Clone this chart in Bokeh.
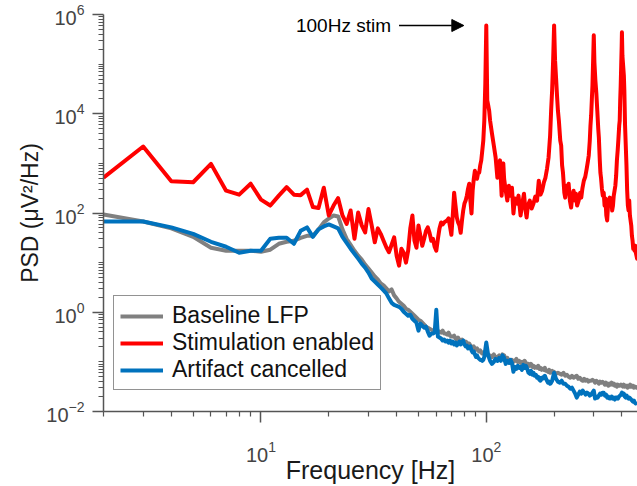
from bokeh.plotting import figure
from bokeh.models import FixedTicker, LogTickFormatter, Arrow, NormalHead, Range1d
from bokeh.core.properties import value
from bokeh.embed import file_html
from bokeh.resources import INLINE

# ---------------- data (PSD stored as log10 of uV^2/Hz) ----------------
low_freq = list(range(2, 100))

red_low_log = [
    2.71, 3.34, 2.64, 2.62, 2.99, 2.45, 2.37, 2.59, 2.27, 2.15,   # 2-11
    2.35, 2.52, 2.37, 2.36, 2.47, 2.12, 2.10, 2.51, 1.95, 2.15,   # 12-21
    2.30, 1.95, 1.78, 2.05, 1.48, 2.01, 1.75, 1.61, 2.08, 1.75,   # 22-31
    1.41, 1.69, 1.58, 1.44, 1.31, 1.21, 1.36, 1.51, 1.14, 0.94,   # 32-41
    1.28, 1.20, 1.00, 1.24, 1.69, 1.95, 1.44, 1.30, 1.75, 1.54,   # 42-51
    1.34, 1.48, 1.64, 1.71, 1.60, 1.44, 1.48, 1.32, 1.24, 1.48,   # 52-61
    1.69, 1.81, 1.77, 1.81, 1.83, 1.85, 1.89, 1.73, 1.56, 1.95,   # 62-71
    2.41, 2.15, 1.91, 1.81, 1.75, 1.60, 1.85, 2.05, 2.19, 2.25,   # 72-81
    2.35, 2.49, 2.59, 2.25, 1.99, 2.45, 2.69, 2.85, 2.75, 2.69,   # 82-91
    2.81, 2.81, 2.96, 3.06, 3.26, 3.46, 3.86, 4.60,               # 92-99
]

grey_low_log = [
    1.97, 1.83, 1.69, 1.52, 1.30, 1.24, 1.24, 1.24, 1.22, 1.26,   # 2-11
    1.38, 1.42, 1.44, 1.50, 1.54, 1.54, 1.67, 1.81, 1.89, 1.95,   # 12-21
    1.93, 1.67, 1.48, 1.36, 1.24, 1.14, 1.06, 0.96, 0.88, 0.80,   # 22-31
    0.72, 0.66, 0.58, 0.54, 0.48, 0.42, 0.46, 0.34, 0.28, 0.21,   # 32-41
    0.17, 0.13, 0.07, 0.05, 0.01, -0.03, -0.07, -0.11, -0.15, -0.17,   # 42-51
    -0.21, -0.25, -0.29, -0.31, -0.33, -0.35, -0.37, -0.39, -0.33, -0.39,  # 52-61
    -0.39, -0.41, -0.37, -0.43, -0.43, -0.45, -0.41, -0.47, -0.49, -0.49,  # 62-71
    -0.47, -0.53, -0.55, -0.51, -0.57, -0.57, -0.55, -0.59, -0.61, -0.59,  # 72-81
    -0.61, -0.65, -0.63, -0.67, -0.69, -0.71, -0.69, -0.73, -0.75, -0.73,  # 82-91
    -0.77, -0.79, -0.77, -0.81, -0.83, -0.81, -0.85, -0.85,               # 92-99
]

blue_low_log = [
    1.83, 1.83, 1.71, 1.58, 1.42, 1.32, 1.20, 1.24, 1.24, 1.48,   # 2-11
    1.50, 1.50, 1.38, 1.64, 1.71, 1.52, 1.67, 1.73, 1.77, 1.73,   # 12-21
    1.69, 1.52, 1.40, 1.28, 1.18, 1.08, 0.98, 0.90, 0.80, 0.68,   # 22-31
    0.62, 0.56, 0.50, 0.44, 0.38, 0.28, 0.19, 0.15, 0.13, 0.11,   # 32-41
    0.07, 0.01, -0.03, -0.07, -0.05, -0.13, -0.17, -0.21, -0.37, -0.23,  # 42-51
    -0.27, -0.31, -0.29, -0.39, -0.47, -0.43, -0.43, -0.41, 0.05, -0.49,  # 52-61
    -0.51, -0.53, -0.57, -0.55, -0.59, -0.57, -0.61, -0.57, -0.63, -0.59,  # 62-71
    -0.65, -0.61, -0.67, -0.63, -0.59, -0.65, -0.61, -0.57, -0.65, -0.69,  # 72-81
    -0.67, -0.73, -0.71, -0.69, -0.77, -0.81, -0.79, -0.85, -0.90, -0.87,  # 82-91
    -0.92, -0.94, -0.96, -0.96, -0.98, -0.96, -0.90, -0.75,               # 92-99
]

high_freq = list(range(100, 201, 2)) + list(range(204, 469, 4))

grey_high_log = [
    -0.81, -0.87, -0.87, -0.90, -0.85, -0.92, -0.90, -0.87, -0.92, -0.85,
    -0.87, -0.94, -0.92, -0.98, -1.02, -0.96, -1.00, -0.98, -0.94, -1.00,
    -0.98, -1.02, -1.00, -1.04, -0.98, -1.02, -1.06, -1.04, -1.08, -1.04,
    -1.10, -1.08, -1.12, -1.10, -1.12, -1.08, -1.14, -1.12, -1.16, -1.14,
    -1.16, -1.12, -1.18, -1.18, -1.20, -1.16, -1.22, -1.20, -1.18, -1.22,
    -1.20,
    -1.24, -1.22, -1.24, -1.26, -1.22, -1.28, -1.26, -1.30, -1.32, -1.28,
    -1.32, -1.30, -1.28, -1.34, -1.32, -1.36, -1.38, -1.34, -1.38, -1.36,
    -1.40, -1.38, -1.38, -1.36, -1.38, -1.42, -1.38, -1.40, -1.44, -1.40,
    -1.42, -1.40, -1.42, -1.46, -1.42, -1.44, -1.48, -1.44, -1.46, -1.42,
    -1.46, -1.44, -1.48, -1.46, -1.50, -1.46, -1.48, -1.48, -1.46, -1.48,
    -1.50, -1.46, -1.50, -1.48, -1.48, -1.52, -1.48, -1.50, -1.46, -1.50,
    -1.48, -1.48, -1.52, -1.50, -1.50, -1.52, -1.52,
]

blue_high_log = [
    -0.61, -0.87, -0.98, -1.04, -1.00, -0.94, -0.98, -0.92, -0.98, -0.87,
    -0.92, -1.04, -0.98, -1.02, -0.96, -1.02, -1.20, -1.10, -1.14, -1.08,
    -1.12, -1.10, -1.16, -1.06, -1.12, -1.08, -1.14, -1.22, -1.24, -1.18,
    -1.26, -1.22, -1.28, -1.26, -1.32, -1.30, -1.36, -1.38, -1.32, -1.34,
    -1.30, -1.28, -1.34, -1.38, -1.42, -1.40, -1.44, -1.42, -1.38, -1.30,
    -1.22,
    -1.34, -1.40, -1.42, -1.38, -1.44, -1.44, -1.48, -1.50, -1.54, -1.52,
    -1.58, -1.64, -1.72, -1.66, -1.60, -1.64, -1.58, -1.62, -1.66, -1.62,
    -1.64, -1.68, -1.66, -1.62, -1.58, -1.74, -1.70, -1.72, -1.68, -1.64,
    -1.66, -1.62, -1.62, -1.68, -1.66, -1.72, -1.70, -1.74, -1.74, -1.70,
    -1.74, -1.72, -1.76, -1.72, -1.72, -1.74, -1.70, -1.68, -1.66, -1.62,
    -1.66, -1.64, -1.70, -1.72, -1.68, -1.72, -1.74, -1.72, -1.74, -1.76,
    -1.78, -1.80, -1.78, -1.82, -1.84, -1.84, -1.86,
]

red_high_freq = [
    100, 101, 102, 103, 104, 106, 108, 110, 112, 113, 115, 117, 119, 120,
    122, 124, 126, 128, 130, 132, 134, 137, 139, 142, 144, 147, 149, 151,
    153, 156, 159, 162, 165, 168, 171, 174, 177, 180, 183, 186, 189, 192,
    194, 196, 198, 200, 202, 204, 206, 208, 210, 213, 215, 217, 219, 222,
    224, 227, 230, 232, 235, 238, 241, 244, 247, 250, 253, 257, 261, 264,
    267, 271, 275, 279, 282, 285, 288, 290, 292, 294, 296, 298, 300, 302,
    305, 308, 311, 314, 316, 319, 321, 323, 326, 329, 332, 335, 338, 341,
    344, 347, 350, 353, 356, 359, 362, 365, 368, 371, 374, 377, 380, 383,
    386, 389, 391, 393, 395, 397, 399, 400, 402, 405, 408, 410, 413, 416,
    419, 422, 425, 428, 431, 434, 437, 440, 443, 446, 449, 452, 455, 458,
    461, 464, 467, 470,
]
red_high_log = [
    5.78, 4.27, 4.17, 4.06, 3.86, 3.60, 3.36, 3.12, 2.71, 2.89, 3.06, 2.35, 3.00, 2.69,
    2.45, 2.25, 2.55, 2.35, 2.51, 1.99, 2.29, 2.19, 2.35, 1.95, 2.15, 2.39, 2.09, 1.91,
    2.15, 2.25, 2.09, 2.19, 2.33, 2.25, 2.65, 2.37, 2.45, 2.61, 2.71, 2.89, 3.12, 3.56,
    4.06, 4.47, 5.07, 5.78, 5.07, 4.73, 4.37, 4.06, 3.86, 3.46, 3.36, 2.96, 2.81, 2.41,
    2.31, 2.55, 2.49, 2.59, 2.25, 2.11, 2.35, 2.45, 2.25, 2.39, 2.15, 2.25, 2.41, 2.31,
    2.49, 2.65, 2.73, 2.89, 3.02, 3.16, 3.46, 3.76, 3.96, 4.27, 4.57, 5.07, 5.58, 5.03,
    4.67, 4.41, 4.06, 3.70, 3.52, 3.06, 2.81, 2.71, 2.49, 2.35, 2.41, 2.15, 2.29, 1.95,
    1.85, 2.15, 2.25, 2.31, 2.15, 2.29, 2.05, 2.15, 2.35, 2.45, 2.55, 2.75, 3.06, 3.26,
    3.50, 3.76, 3.86, 4.27, 4.57, 4.97, 5.37, 5.64, 5.17, 4.97, 4.77, 4.47, 3.76, 3.36,
    2.96, 2.45, 2.15, 2.05, 2.25, 1.95, 1.85, 1.75, 1.54, 1.44, 1.28, 1.34, 1.24, 1.34,
    1.20, 1.14, 1.08, 1.14,
]

series_names = ["Baseline LFP", "Stimulation enabled", "Artifact cancelled"]
series_colors = ["#808080", "#ff0000", "#0072bd"]

x_major = [10, 100]
y_major = [1e-2, 1e0, 1e2, 1e4, 1e6]

annot_text = "100Hz stim"
annot_text_freq = 14.3
annot_level = 6.0e5
arrow_freq_start = 41.0
arrow_freq_end = 79.5

# ---------------- figure ----------------
FONT = "Liberation Sans"

p = figure(width=637, height=486, x_axis_type="log", y_axis_type="log",
           x_range=Range1d(2, 469), y_range=Range1d(1e-2, 1e6),
           output_backend="svg", toolbar_location=None,
           min_border_left=103, min_border_right=0,
           min_border_top=14, min_border_bottom=75)
p.outline_line_color = None
p.background_fill_color = "white"
p.border_fill_color = "white"
p.grid.visible = False

grey_f = low_freq + high_freq
grey_v = [10 ** v for v in grey_low_log + grey_high_log]
blue_f = low_freq + high_freq
blue_v = [10 ** v for v in blue_low_log + blue_high_log]
red_f = low_freq + red_high_freq
red_v = [10 ** v for v in red_low_log + red_high_log]

p.line(grey_f, grey_v, line_color=series_colors[0], line_width=4, line_join="round",
       legend_label=series_names[0])
p.line(red_f, red_v, line_color=series_colors[1], line_width=4, line_join="round",
       legend_label=series_names[1])
p.line(blue_f, blue_v, line_color=series_colors[2], line_width=4, line_join="round",
       legend_label=series_names[2])

# ticks
x_minor = [m * 10 ** k for k in (0, 1, 2) for m in range(2, 10)]
y_minor = [m * 10.0 ** k for k in range(-2, 6) for m in range(1, 10) if not (m == 1 and k % 2 == 0)]
p.xaxis.ticker = FixedTicker(ticks=x_major, minor_ticks=x_minor)
p.yaxis.ticker = FixedTicker(ticks=y_major, minor_ticks=y_minor)
p.xaxis.formatter = LogTickFormatter()
p.yaxis.formatter = LogTickFormatter()

AX_COL = "#555555"
for ax in (p.xaxis[0], p.yaxis[0]):
    ax.axis_line_color = AX_COL
    ax.axis_line_width = 1.5
    ax.major_tick_line_color = AX_COL
    ax.minor_tick_line_color = AX_COL
    ax.major_tick_line_width = 1.5
    ax.minor_tick_line_width = 1.2
    ax.major_tick_in = 0
    ax.major_tick_out = 11
    ax.minor_tick_in = 0
    ax.minor_tick_out = 5
    ax.major_label_text_font = FONT
    ax.major_label_text_font_size = "20px"
    ax.major_label_text_color = "#444444"
    ax.axis_label_text_font = FONT
    ax.axis_label_text_font_style = "normal"
    ax.axis_label_text_color = "#1a1a1a"

p.xaxis.axis_label = "Frequency [Hz]"
p.yaxis.axis_label = "PSD (\u03bcV\u00b2/Hz)"
p.xaxis.axis_label_text_font_size = "25px"
p.yaxis.axis_label_text_font_size = "23px"
p.xaxis.major_label_standoff = 18
p.yaxis.major_label_standoff = 8
p.xaxis.axis_label_standoff = -9
p.yaxis.axis_label_standoff = 0

# legend
lg = p.legend[0]
lg.location = (10, 21)
lg.label_text_font = FONT
lg.label_text_font_size = "23px"
lg.label_text_color = "#111111"
lg.border_line_color = "#262626"
lg.border_line_width = 1.5
lg.background_fill_color = "white"
lg.background_fill_alpha = 1.0
lg.padding = 6
lg.margin = 0
lg.spacing = -3
lg.label_height = 24
lg.glyph_height = 24
lg.glyph_width = 43
lg.label_standoff = 9

# annotation
p.text(x=[annot_text_freq], y=[annot_level], text=[annot_text],
       text_font=value(FONT), text_font_size="19px", text_color="black",
       text_baseline="middle", text_align="left")
p.add_layout(Arrow(end=NormalHead(size=12, fill_color="black", line_color="black"),
                   x_start=arrow_freq_start, y_start=annot_level,
                   x_end=arrow_freq_end, y_end=annot_level,
                   line_color="black", line_width=1.5))

open("out.html", "w").write(file_html(p, INLINE))
